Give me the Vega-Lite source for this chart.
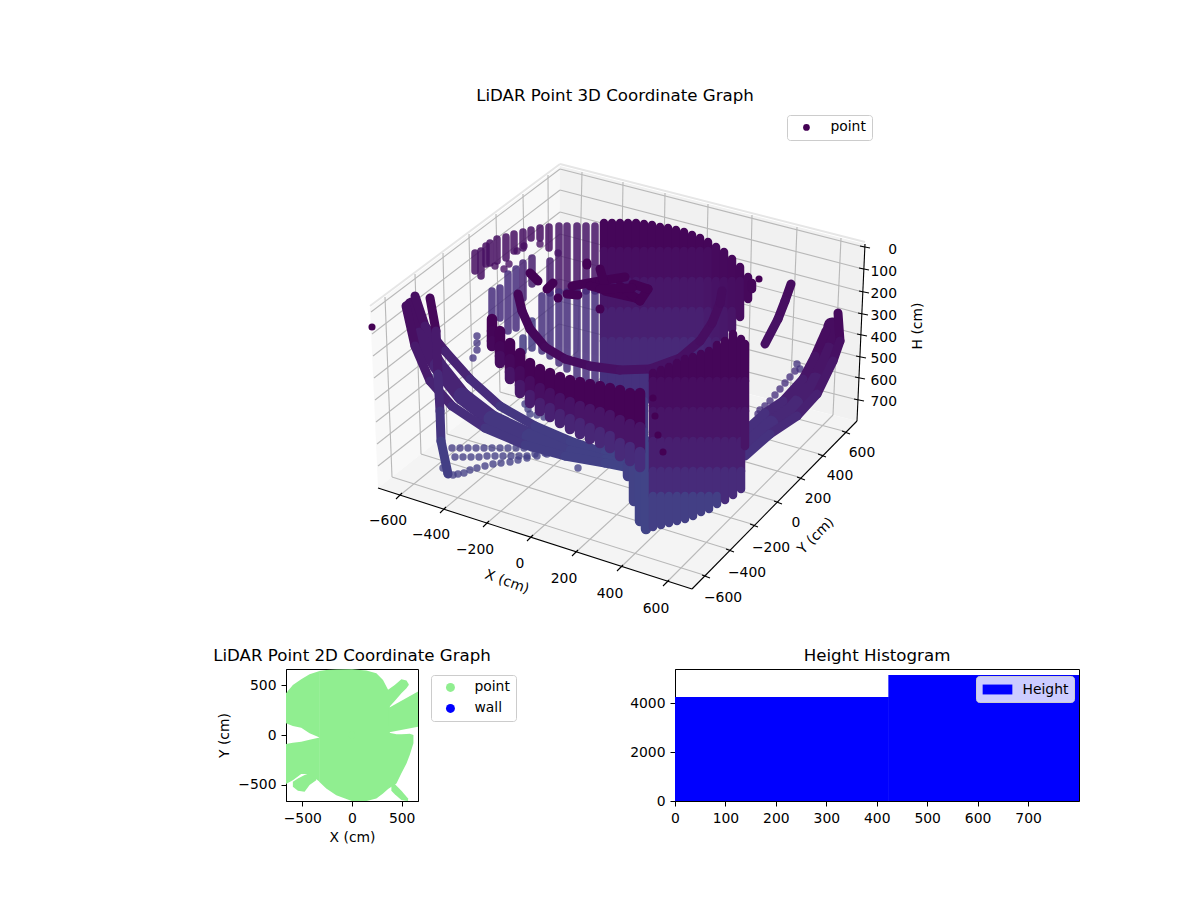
{
"$schema":"https://vega.github.io/schema/vega-lite/v6.json",
"padding":{"left":212,"top":88,"right":110,"bottom":50},
"spacing":26,
"resolve":{"scale":{"color":"independent"},"legend":{"color":"independent"}},
"config":{"font":"DejaVu Sans","axis":{"grid":false,"labelFlush":false,"labelFontSize":13.9,"titleFontSize":13.9,"titleFontWeight":"normal","labelColor":"black","titleColor":"black","domainColor":"black","tickColor":"black","tickSize":5,"labelPadding":5,"titlePadding":6},"title":{"fontSize":16.67,"fontWeight":"normal","color":"black","offset":4},"legend":{"labelFontSize":13.9,"labelColor":"black","fillColor":"rgba(255,255,255,0.8)","strokeColor":"#cccccc","cornerRadius":3,"padding":5.5}},
"datasets":{
"grid":[
{"x":385,"y":296,"x2":392,"y2":476},{"x":415,"y":273,"x2":421,"y2":453},{"x":443,"y":252,"x2":447,"y2":433},{"x":469,"y":233,"x2":473,"y2":412},{"x":496,"y":213,"x2":500,"y2":391},{"x":523,"y":193,"x2":526,"y2":370},{"x":548,"y":174,"x2":549,"y2":352},
{"x":582,"y":171,"x2":578,"y2":350},{"x":623,"y":181,"x2":620,"y2":361},{"x":665,"y":192,"x2":662,"y2":371},{"x":708,"y":203,"x2":704,"y2":382},{"x":752,"y":214,"x2":748,"y2":393},{"x":797,"y":226,"x2":790,"y2":403},{"x":841,"y":237,"x2":833,"y2":414},
{"x":560,"y":168,"x2":864,"y2":246},{"x":560,"y":189,"x2":863,"y2":268},{"x":560,"y":211,"x2":863,"y2":291},{"x":560,"y":233,"x2":862,"y2":313},{"x":560,"y":255,"x2":861,"y2":334},{"x":559,"y":278,"x2":860,"y2":356},{"x":559,"y":300,"x2":859,"y2":377},{"x":559,"y":323,"x2":858,"y2":399},
{"x":560,"y":168,"x2":371,"y2":311},{"x":560,"y":189,"x2":372,"y2":333},{"x":560,"y":211,"x2":373,"y2":355},{"x":560,"y":233,"x2":374,"y2":377},{"x":560,"y":255,"x2":375,"y2":399},{"x":559,"y":278,"x2":376,"y2":421},{"x":559,"y":300,"x2":377,"y2":443},{"x":559,"y":323,"x2":378,"y2":465},
{"x":399,"y":495,"x2":578,"y2":350},{"x":443,"y":509,"x2":620,"y2":361},{"x":486,"y":523,"x2":662,"y2":371},{"x":530,"y":537,"x2":704,"y2":382},{"x":575,"y":552,"x2":748,"y2":393},{"x":620,"y":567,"x2":790,"y2":403},{"x":666,"y":582,"x2":833,"y2":414},
{"x":707,"y":575,"x2":392,"y2":476},{"x":731,"y":549,"x2":421,"y2":453},{"x":755,"y":524,"x2":447,"y2":433},{"x":779,"y":501,"x2":473,"y2":412},{"x":802,"y":477,"x2":500,"y2":391},{"x":823,"y":454,"x2":526,"y2":370},{"x":847,"y":431,"x2":549,"y2":352}],
"axes3d":[
{"x":378,"y":487,"x2":692,"y2":588},{"x":692,"y":588,"x2":857,"y2":420},{"x":865,"y":243,"x2":857,"y2":420},
{"x":396,"y":498,"x2":402,"y2":492},{"x":440,"y":512,"x2":446,"y2":506},{"x":483,"y":526,"x2":489,"y2":520},{"x":527,"y":540,"x2":533,"y2":534},{"x":572,"y":555,"x2":578,"y2":549},{"x":617,"y":570,"x2":623,"y2":564},{"x":663,"y":585,"x2":669,"y2":579},
{"x":702,"y":574,"x2":710,"y2":577},{"x":726,"y":548,"x2":734,"y2":551},{"x":750,"y":523,"x2":758,"y2":526},{"x":774,"y":500,"x2":782,"y2":503},{"x":797,"y":476,"x2":805,"y2":479},{"x":818,"y":453,"x2":826,"y2":456},{"x":842,"y":430,"x2":850,"y2":433},
{"x":860,"y":245,"x2":870,"y2":247},{"x":859,"y":267,"x2":869,"y2":269},{"x":859,"y":290,"x2":869,"y2":292},{"x":858,"y":312,"x2":868,"y2":314},{"x":857,"y":333,"x2":867,"y2":335},{"x":856,"y":355,"x2":866,"y2":357},{"x":855,"y":376,"x2":865,"y2":378},{"x":854,"y":398,"x2":864,"y2":400}],
"ticks3d":[
{"x":388,"y":520,"t":"−600"},{"x":431,"y":534,"t":"−400"},{"x":475,"y":549,"t":"−200"},{"x":520,"y":563,"t":"0"},{"x":564,"y":578,"t":"200"},{"x":610,"y":593,"t":"400"},{"x":656,"y":608,"t":"600"},
{"x":723,"y":597,"t":"−600"},{"x":747,"y":572,"t":"−400"},{"x":771,"y":547,"t":"−200"},{"x":796,"y":522,"t":"0"},{"x":818,"y":498,"t":"200"},{"x":840,"y":475,"t":"400"},{"x":862,"y":452,"t":"600"}],
"hticks":[{"x":897,"y":249,"t":"0"},{"x":897,"y":271,"t":"100"},{"x":897,"y":293,"t":"200"},{"x":897,"y":315,"t":"300"},{"x":897,"y":337,"t":"400"},{"x":897,"y":358,"t":"500"},{"x":897,"y":380,"t":"600"},{"x":897,"y":401,"t":"700"}],
"sparseDots":[
{"x":452,"y":447,"h":560},{"x":460,"y":447,"h":560},{"x":468,"y":447,"h":570},{"x":476,"y":447,"h":570},{"x":484,"y":447,"h":580},{"x":492,"y":447,"h":580},{"x":500,"y":447,"h":590},{"x":508,"y":447,"h":590},{"x":516,"y":447,"h":590},{"x":524,"y":447,"h":600},{"x":532,"y":447,"h":600},{"x":540,"y":447,"h":600},{"x":548,"y":447,"h":600},{"x":556,"y":447,"h":600},
{"x":455,"y":456,"h":570},{"x":463,"y":456,"h":570},{"x":471,"y":456,"h":580},{"x":479,"y":456,"h":580},{"x":487,"y":455,"h":590},{"x":495,"y":455,"h":590},{"x":503,"y":455,"h":590},{"x":511,"y":455,"h":600},{"x":519,"y":455,"h":600},{"x":527,"y":455,"h":600},{"x":535,"y":453,"h":600},{"x":545,"y":452,"h":600},{"x":555,"y":450,"h":600},{"x":565,"y":448,"h":600},
{"x":443,"y":467,"h":600},{"x":447,"y":472,"h":600},{"x":453,"y":474,"h":600},{"x":458,"y":473,"h":600},{"x":464,"y":472,"h":600},{"x":470,"y":469,"h":600},{"x":477,"y":467,"h":600},{"x":485,"y":465,"h":610},{"x":493,"y":463,"h":610},{"x":501,"y":462,"h":610},{"x":510,"y":461,"h":610},{"x":518,"y":459,"h":610},{"x":527,"y":457,"h":610},{"x":537,"y":455,"h":610},{"x":547,"y":453,"h":610},
{"x":525,"y":403,"h":600},{"x":528,"y":408,"h":600},{"x":530,"y":413,"h":600},{"x":537,"y":414,"h":600},{"x":544,"y":416,"h":600},{"x":430,"y":376,"h":900},{"x":578,"y":467,"h":620},
{"x":797,"y":363,"h":500},{"x":800,"y":368,"h":500},{"x":795,"y":370,"h":450},{"x":790,"y":376,"h":450},{"x":785,"y":382,"h":450},{"x":780,"y":388,"h":450},{"x":775,"y":394,"h":450},{"x":770,"y":400,"h":450},{"x":765,"y":405,"h":450},{"x":760,"y":409,"h":450},{"x":758,"y":413,"h":450},
{"x":477,"y":335,"h":500},{"x":477,"y":342,"h":500},{"x":477,"y":349,"h":500},{"x":473,"y":357,"h":500},
{"x":540,"y":243,"h":100},{"x":558,"y":252,"h":100},{"x":495,"y":265,"h":100},{"x":504,"y":268,"h":100},{"x":509,"y":263,"h":100},{"x":517,"y":250,"h":100},{"x":524,"y":245,"h":100}],
"sparseCols":[
{"x":475,"y":252,"y2":270,"h":120},{"x":481,"y":250,"y2":275,"h":120},{"x":486,"y":245,"y2":263,"h":120},{"x":490,"y":242,"y2":262,"h":120},{"x":497,"y":238,"y2":260,"h":120},{"x":506,"y":236,"y2":257,"h":120},{"x":514,"y":233,"y2":250,"h":120},{"x":523,"y":231,"y2":247,"h":120},{"x":531,"y":229,"y2":237,"h":120},{"x":540,"y":227,"y2":237,"h":120},{"x":549,"y":226,"y2":247,"h":120},
{"x":492,"y":290,"y2":313,"h":420},{"x":500,"y":287,"y2":317,"h":420},{"x":508,"y":273,"y2":330,"h":420},{"x":516,"y":268,"y2":327,"h":420},{"x":523,"y":262,"y2":297,"h":300},{"x":523,"y":337,"y2":350,"h":560},{"x":532,"y":257,"y2":283,"h":260},{"x":532,"y":320,"y2":347,"h":540},{"x":542,"y":295,"y2":350,"h":450},{"x":550,"y":260,"y2":292,"h":250},{"x":550,"y":293,"y2":355,"h":450},
{"x":559,"y":225,"y2":290,"h":170},{"x":559,"y":291,"y2":362,"h":430},{"x":567,"y":225,"y2":290,"h":170},{"x":567,"y":291,"y2":368,"h":430},{"x":577,"y":225,"y2":290,"h":170},{"x":577,"y":291,"y2":375,"h":430},{"x":586,"y":225,"y2":290,"h":170},{"x":586,"y":291,"y2":378,"h":430},{"x":595,"y":225,"y2":290,"h":170},{"x":595,"y":291,"y2":380,"h":430}],
"rearBowl":[
{"x":604,"y":222,"y2":250,"h":40},{"x":604,"y":250,"y2":280,"h":110},{"x":604,"y":280,"y2":310,"h":190},{"x":604,"y":310,"y2":340,"h":280},{"x":604,"y":340,"y2":370,"h":370},{"x":604,"y":370,"y2":400,"h":460},{"x":604,"y":400,"y2":430,"h":560},{"x":604,"y":430,"y2":450,"h":640},
{"x":612,"y":222,"y2":250,"h":40},{"x":612,"y":250,"y2":280,"h":110},{"x":612,"y":280,"y2":310,"h":190},{"x":612,"y":310,"y2":340,"h":280},{"x":612,"y":340,"y2":370,"h":370},{"x":612,"y":370,"y2":400,"h":460},{"x":612,"y":400,"y2":430,"h":560},{"x":612,"y":430,"y2":458,"h":640},
{"x":620,"y":222,"y2":250,"h":40},{"x":620,"y":250,"y2":280,"h":110},{"x":620,"y":280,"y2":310,"h":190},{"x":620,"y":310,"y2":340,"h":280},{"x":620,"y":340,"y2":370,"h":370},{"x":620,"y":370,"y2":400,"h":460},{"x":620,"y":400,"y2":430,"h":560},{"x":620,"y":430,"y2":462,"h":640},
{"x":628,"y":222,"y2":250,"h":40},{"x":628,"y":250,"y2":280,"h":110},{"x":628,"y":280,"y2":310,"h":190},{"x":628,"y":310,"y2":340,"h":280},{"x":628,"y":340,"y2":370,"h":370},{"x":628,"y":370,"y2":400,"h":460},{"x":628,"y":400,"y2":430,"h":560},{"x":628,"y":430,"y2":465,"h":640},
{"x":636,"y":222,"y2":250,"h":40},{"x":636,"y":250,"y2":280,"h":110},{"x":636,"y":280,"y2":310,"h":190},{"x":636,"y":310,"y2":340,"h":280},{"x":636,"y":340,"y2":370,"h":370},{"x":636,"y":370,"y2":400,"h":460},{"x":636,"y":400,"y2":430,"h":560},{"x":636,"y":430,"y2":465,"h":640},
{"x":644,"y":223,"y2":250,"h":40},{"x":644,"y":250,"y2":280,"h":110},{"x":644,"y":280,"y2":310,"h":190},{"x":644,"y":310,"y2":340,"h":280},{"x":644,"y":340,"y2":370,"h":370},{"x":644,"y":370,"y2":400,"h":460},{"x":644,"y":400,"y2":430,"h":560},{"x":644,"y":430,"y2":440,"h":640},
{"x":652,"y":224,"y2":250,"h":40},{"x":652,"y":250,"y2":280,"h":110},{"x":652,"y":280,"y2":310,"h":190},{"x":652,"y":310,"y2":340,"h":280},{"x":652,"y":340,"y2":370,"h":370},{"x":652,"y":370,"y2":400,"h":460},
{"x":660,"y":226,"y2":250,"h":40},{"x":660,"y":250,"y2":280,"h":110},{"x":660,"y":280,"y2":310,"h":190},{"x":660,"y":310,"y2":340,"h":280},{"x":660,"y":340,"y2":370,"h":370},{"x":660,"y":370,"y2":390,"h":460},
{"x":668,"y":227,"y2":250,"h":40},{"x":668,"y":250,"y2":280,"h":110},{"x":668,"y":280,"y2":310,"h":190},{"x":668,"y":310,"y2":340,"h":280},{"x":668,"y":340,"y2":370,"h":370},{"x":668,"y":370,"y2":390,"h":460},
{"x":676,"y":229,"y2":250,"h":40},{"x":676,"y":250,"y2":280,"h":110},{"x":676,"y":280,"y2":310,"h":190},{"x":676,"y":310,"y2":340,"h":280},{"x":676,"y":340,"y2":370,"h":370},{"x":676,"y":370,"y2":388,"h":460},
{"x":684,"y":231,"y2":250,"h":40},{"x":684,"y":250,"y2":280,"h":110},{"x":684,"y":280,"y2":310,"h":190},{"x":684,"y":310,"y2":340,"h":280},{"x":684,"y":340,"y2":370,"h":370},{"x":684,"y":370,"y2":385,"h":460},
{"x":692,"y":234,"y2":250,"h":40},{"x":692,"y":250,"y2":280,"h":110},{"x":692,"y":280,"y2":310,"h":190},{"x":692,"y":310,"y2":340,"h":280},{"x":692,"y":340,"y2":378,"h":370},
{"x":700,"y":237,"y2":250,"h":40},{"x":700,"y":250,"y2":280,"h":110},{"x":700,"y":280,"y2":310,"h":190},{"x":700,"y":310,"y2":340,"h":280},{"x":700,"y":340,"y2":370,"h":350},
{"x":708,"y":241,"y2":250,"h":40},{"x":708,"y":250,"y2":280,"h":100},{"x":708,"y":280,"y2":310,"h":170},{"x":708,"y":310,"y2":340,"h":240},{"x":708,"y":340,"y2":362,"h":300},
{"x":716,"y":246,"y2":280,"h":80},{"x":716,"y":280,"y2":310,"h":150},{"x":716,"y":310,"y2":340,"h":220},{"x":716,"y":340,"y2":350,"h":270},
{"x":724,"y":251,"y2":280,"h":70},{"x":724,"y":280,"y2":310,"h":130},{"x":724,"y":310,"y2":338,"h":200},
{"x":732,"y":258,"y2":280,"h":60},{"x":732,"y":280,"y2":310,"h":110},{"x":732,"y":310,"y2":328,"h":170},
{"x":740,"y":266,"y2":280,"h":50},{"x":740,"y":280,"y2":316,"h":100},
{"x":748,"y":276,"y2":298,"h":60},{"x":752,"y":282,"y2":288,"h":50}],
"wideArcs":[
{"x":412,"y":305,"x2":420,"y2":335,"h":120},{"x":420,"y":335,"x2":438,"y2":365,"h":220},{"x":438,"y":365,"x2":462,"y2":395,"h":320},{"x":462,"y":395,"x2":492,"y2":418,"h":420},{"x":492,"y":418,"x2":530,"y2":436,"h":520},{"x":530,"y":436,"x2":570,"y2":449,"h":580},
{"x":832,"y":325,"x2":828,"y2":350,"h":100},{"x":828,"y":350,"x2":815,"y2":380,"h":170},{"x":815,"y":380,"x2":795,"y2":403,"h":260},{"x":795,"y":403,"x2":770,"y2":423,"h":360},{"x":770,"y":423,"x2":745,"y2":443,"h":450}],
"arcs":[
{"x":518,"y":293,"x2":522,"y2":310,"h":30},{"x":522,"y":310,"x2":530,"y2":328,"h":40},{"x":530,"y":328,"x2":545,"y2":346,"h":50},{"x":545,"y":346,"x2":565,"y2":358,"h":70},{"x":565,"y":358,"x2":590,"y2":365,"h":90},{"x":590,"y":365,"x2":620,"y2":369,"h":130},{"x":620,"y":369,"x2":650,"y2":368,"h":150},{"x":650,"y":368,"x2":680,"y2":357,"h":150},{"x":680,"y":357,"x2":700,"y2":340,"h":130},{"x":700,"y":340,"x2":712,"y2":322,"h":110},{"x":712,"y":322,"x2":720,"y2":302,"h":100},{"x":720,"y":302,"x2":722,"y2":290,"h":90},
{"x":572,"y":285,"x2":600,"y2":280,"h":5},{"x":600,"y":280,"x2":625,"y2":276,"h":5},{"x":600,"y":268,"x2":605,"y2":285,"h":5},{"x":590,"y":285,"x2":610,"y2":290,"h":5},{"x":605,"y":290,"x2":640,"y2":298,"h":5},{"x":620,"y":285,"x2":640,"y2":300,"h":5},{"x":640,"y":300,"x2":648,"y2":288,"h":5},{"x":633,"y":283,"x2":648,"y2":288,"h":5},{"x":600,"y":288,"x2":632,"y2":287,"h":5},{"x":587,"y":262,"x2":587,"y2":264,"h":5},{"x":530,"y":272,"x2":538,"y2":280,"h":5},{"x":547,"y":288,"x2":553,"y2":282,"h":5},{"x":558,"y":297,"x2":558,"y2":297,"h":5},{"x":567,"y":293,"x2":578,"y2":294,"h":5},{"x":600,"y":308,"x2":600,"y2":308,"h":5},
{"x":415,"y":295,"x2":425,"y2":325,"h":120},{"x":425,"y":325,"x2":445,"y2":350,"h":220},{"x":445,"y":350,"x2":470,"y2":378,"h":320},{"x":470,"y":378,"x2":500,"y2":405,"h":420},{"x":500,"y":405,"x2":535,"y2":425,"h":520},{"x":535,"y":425,"x2":570,"y2":440,"h":580},{"x":570,"y":440,"x2":605,"y2":452,"h":620},{"x":605,"y":452,"x2":635,"y2":462,"h":650},
{"x":570,"y":449,"x2":605,"y2":458,"h":620},{"x":605,"y":458,"x2":635,"y2":465,"h":650},
{"x":406,"y":305,"x2":415,"y2":345,"h":120},{"x":415,"y":345,"x2":430,"y2":380,"h":220},{"x":430,"y":380,"x2":452,"y2":405,"h":320},{"x":452,"y":405,"x2":485,"y2":427,"h":420},{"x":485,"y":427,"x2":525,"y2":444,"h":520},{"x":525,"y":444,"x2":565,"y2":455,"h":580},{"x":565,"y":455,"x2":605,"y2":462,"h":620},{"x":605,"y":462,"x2":635,"y2":468,"h":650},
{"x":430,"y":297,"x2":436,"y2":330,"h":60},{"x":436,"y":330,"x2":438,"y2":373,"h":220},{"x":438,"y":373,"x2":440,"y2":410,"h":380},{"x":440,"y":410,"x2":441,"y2":440,"h":500},{"x":441,"y":440,"x2":448,"y2":473,"h":600},
{"x":838,"y":312,"x2":840,"y2":340,"h":80},{"x":840,"y":340,"x2":833,"y2":360,"h":130},{"x":833,"y":360,"x2":817,"y2":393,"h":200},{"x":817,"y":393,"x2":797,"y2":415,"h":290},{"x":797,"y":415,"x2":770,"y2":433,"h":390},{"x":770,"y":433,"x2":745,"y2":455,"h":470},
{"x":826,"y":330,"x2":815,"y2":355,"h":100},{"x":815,"y":355,"x2":803,"y2":378,"h":170},{"x":803,"y":378,"x2":783,"y2":400,"h":260},{"x":783,"y":400,"x2":765,"y2":412,"h":360},{"x":765,"y":412,"x2":745,"y2":430,"h":450},
{"x":791,"y":283,"x2":785,"y2":300,"h":90},{"x":785,"y":300,"x2":778,"y2":318,"h":110},{"x":778,"y":318,"x2":765,"y2":343,"h":130}],
"front":[
{"x":628,"y":465,"y2":475,"h":620},{"x":634,"y":462,"y2":500,"h":640},{"x":640,"y":455,"y2":520,"h":650},{"x":646,"y":440,"y2":528,"h":660},
{"x":492,"y":318,"y2":330,"h":20},{"x":492,"y":330,"y2":340,"h":30},{"x":492,"y":340,"y2":345,"h":60},
{"x":500,"y":330,"y2":345,"h":20},{"x":500,"y":345,"y2":355,"h":40},{"x":500,"y":355,"y2":362,"h":100},
{"x":510,"y":342,"y2":358,"h":20},{"x":510,"y":358,"y2":371,"h":60},{"x":510,"y":371,"y2":378,"h":170},
{"x":520,"y":352,"y2":370,"h":20},{"x":520,"y":370,"y2":384,"h":80},{"x":520,"y":384,"y2":392,"h":200},
{"x":530,"y":362,"y2":380,"h":20},{"x":530,"y":380,"y2":394,"h":100},{"x":530,"y":394,"y2":402,"h":240},
{"x":540,"y":368,"y2":387,"h":20},{"x":540,"y":387,"y2":402,"h":120},{"x":540,"y":402,"y2":410,"h":270},
{"x":550,"y":372,"y2":392,"h":20},{"x":550,"y":392,"y2":407,"h":130},{"x":550,"y":407,"y2":416,"h":290},
{"x":560,"y":376,"y2":397,"h":20},{"x":560,"y":397,"y2":413,"h":150},{"x":560,"y":413,"y2":422,"h":310},
{"x":570,"y":379,"y2":401,"h":20},{"x":570,"y":401,"y2":418,"h":160},{"x":570,"y":418,"y2":428,"h":330},
{"x":580,"y":381,"y2":405,"h":20},{"x":580,"y":405,"y2":422,"h":170},{"x":580,"y":422,"y2":433,"h":340},
{"x":590,"y":383,"y2":408,"h":20},{"x":590,"y":408,"y2":427,"h":170},{"x":590,"y":427,"y2":438,"h":350},
{"x":600,"y":385,"y2":411,"h":20},{"x":600,"y":411,"y2":431,"h":170},{"x":600,"y":431,"y2":442,"h":360},
{"x":610,"y":387,"y2":414,"h":20},{"x":610,"y":414,"y2":435,"h":170},{"x":610,"y":435,"y2":447,"h":370},
{"x":620,"y":389,"y2":419,"h":20},{"x":620,"y":419,"y2":442,"h":170},{"x":620,"y":442,"y2":455,"h":380},
{"x":630,"y":392,"y2":423,"h":20},{"x":630,"y":423,"y2":446,"h":170},{"x":630,"y":446,"y2":460,"h":400},
{"x":640,"y":392,"y2":426,"h":20},{"x":640,"y":426,"y2":451,"h":170},{"x":640,"y":451,"y2":466,"h":420}],
"block":[
{"x":653,"y":372,"y2":380,"h":40},{"x":653,"y":380,"y2":410,"h":100},{"x":653,"y":410,"y2":440,"h":170},{"x":653,"y":440,"y2":470,"h":270},{"x":653,"y":470,"y2":495,"h":400},{"x":653,"y":495,"y2":526,"h":600},
{"x":661,"y":369,"y2":380,"h":40},{"x":661,"y":380,"y2":410,"h":100},{"x":661,"y":410,"y2":440,"h":170},{"x":661,"y":440,"y2":470,"h":270},{"x":661,"y":470,"y2":495,"h":400},{"x":661,"y":495,"y2":524,"h":600},
{"x":669,"y":366,"y2":380,"h":40},{"x":669,"y":380,"y2":410,"h":100},{"x":669,"y":410,"y2":440,"h":170},{"x":669,"y":440,"y2":470,"h":270},{"x":669,"y":470,"y2":495,"h":400},{"x":669,"y":495,"y2":522,"h":600},
{"x":677,"y":362,"y2":380,"h":40},{"x":677,"y":380,"y2":410,"h":100},{"x":677,"y":410,"y2":440,"h":170},{"x":677,"y":440,"y2":470,"h":270},{"x":677,"y":470,"y2":495,"h":400},{"x":677,"y":495,"y2":520,"h":600},
{"x":685,"y":358,"y2":380,"h":40},{"x":685,"y":380,"y2":410,"h":100},{"x":685,"y":410,"y2":440,"h":170},{"x":685,"y":440,"y2":470,"h":270},{"x":685,"y":470,"y2":495,"h":400},{"x":685,"y":495,"y2":518,"h":600},
{"x":693,"y":356,"y2":380,"h":40},{"x":693,"y":380,"y2":410,"h":100},{"x":693,"y":410,"y2":440,"h":170},{"x":693,"y":440,"y2":470,"h":270},{"x":693,"y":470,"y2":495,"h":400},{"x":693,"y":495,"y2":515,"h":600},
{"x":701,"y":353,"y2":380,"h":40},{"x":701,"y":380,"y2":410,"h":100},{"x":701,"y":410,"y2":440,"h":170},{"x":701,"y":440,"y2":470,"h":270},{"x":701,"y":470,"y2":495,"h":400},{"x":701,"y":495,"y2":511,"h":600},
{"x":709,"y":350,"y2":380,"h":40},{"x":709,"y":380,"y2":410,"h":100},{"x":709,"y":410,"y2":440,"h":170},{"x":709,"y":440,"y2":470,"h":270},{"x":709,"y":470,"y2":495,"h":400},{"x":709,"y":495,"y2":508,"h":600},
{"x":717,"y":344,"y2":380,"h":40},{"x":717,"y":380,"y2":410,"h":100},{"x":717,"y":410,"y2":440,"h":170},{"x":717,"y":440,"y2":470,"h":270},{"x":717,"y":470,"y2":495,"h":400},{"x":717,"y":495,"y2":503,"h":600},
{"x":725,"y":340,"y2":380,"h":40},{"x":725,"y":380,"y2":410,"h":100},{"x":725,"y":410,"y2":440,"h":170},{"x":725,"y":440,"y2":470,"h":270},{"x":725,"y":470,"y2":499,"h":400},
{"x":733,"y":333,"y2":380,"h":40},{"x":733,"y":380,"y2":410,"h":100},{"x":733,"y":410,"y2":440,"h":170},{"x":733,"y":440,"y2":470,"h":270},{"x":733,"y":470,"y2":494,"h":400},
{"x":741,"y":338,"y2":380,"h":40},{"x":741,"y":380,"y2":410,"h":100},{"x":741,"y":410,"y2":440,"h":170},{"x":741,"y":440,"y2":470,"h":270},{"x":741,"y":470,"y2":488,"h":400},
{"x":745,"y":343,"y2":380,"h":40},{"x":745,"y":380,"y2":410,"h":100},{"x":745,"y":410,"y2":445,"h":170}],
"lone":[{"series":"point","x":372,"y":326},{"series":"point","x":759,"y":278},{"series":"point","x":653,"y":397},{"series":"point","x":655,"y":415},{"series":"point","x":658,"y":434},{"series":"point","x":663,"y":451}],
"blob":[
{"part":"ul","x":-664,"y":420,"y2":118},{"part":"ul","x":-595,"y":504,"y2":91},{"part":"ul","x":-511,"y":561,"y2":74},{"part":"ul","x":-427,"y":612,"y2":17},{"part":"ul","x":-326,"y":645,"y2":-24},
{"part":"c","x":-330,"y":645,"y2":-470},{"part":"c","x":-259,"y":655,"y2":-538},{"part":"c","x":-158,"y":659,"y2":-605},{"part":"c","x":0,"y":662,"y2":-665},{"part":"c","x":144,"y":648,"y2":-665},{"part":"c","x":245,"y":622,"y2":-638},{"part":"c","x":312,"y":554,"y2":-588},{"part":"c","x":363,"y":454,"y2":-544},{"part":"c","x":380,"y":447,"y2":-500},
{"part":"ru","x":363,"y":269,"y2":24},{"part":"ru","x":665,"y":437,"y2":84},
{"part":"rl","x":363,"y":24,"y2":-544},{"part":"rl","x":447,"y":7,"y2":-487},{"part":"rl","x":497,"y":7,"y2":-386},{"part":"rl","x":548,"y":10,"y2":-286},{"part":"rl","x":581,"y":13,"y2":-202},{"part":"rl","x":618,"y":0,"y2":-84},
{"part":"su","x":363,"y":454,"y2":269},{"part":"su","x":430,"y":504,"y2":343},{"part":"su","x":497,"y":561,"y2":420},{"part":"su","x":548,"y":548,"y2":470},{"part":"su","x":571,"y":511,"y2":504},
{"part":"sl","x":396,"y":-494,"y2":-561},{"part":"sl","x":430,"y":-494,"y2":-595},{"part":"sl","x":497,"y":-561,"y2":-655},{"part":"sl","x":564,"y":-638,"y2":-665},
{"part":"ll","x":-664,"y":-91,"y2":-494},{"part":"ll","x":-595,"y":-77,"y2":-454},{"part":"ll","x":-511,"y":-67,"y2":-393},{"part":"ll","x":-427,"y":-47,"y2":-393},{"part":"ll","x":-326,"y":-24,"y2":-470},
{"part":"ls","x":-595,"y":-470,"y2":-521},{"part":"ls","x":-544,"y":-437,"y2":-561},{"part":"ls","x":-477,"y":-403,"y2":-571},{"part":"ls","x":-427,"y":-386,"y2":-504},{"part":"ls","x":-360,"y":-386,"y2":-454}]
},
"vconcat":[
{
"title":{"text":"LiDAR Point 3D Coordinate Graph"},
"width":658,"height":512,
"view":{"stroke":null},
"encoding":{
"x":{"field":"x","type":"quantitative","scale":{"domain":[286,944],"nice":false,"zero":false},"axis":null},
"y":{"field":"y","type":"quantitative","scale":{"domain":[620,108],"nice":false,"zero":false},"axis":null}
},
"layer":[
{"data":{"values":[{"x":370,"y":307,"y2":307},{"x":378,"y":301,"y2":487},{"x":558,"y":167,"y2":345},{"x":560,"y":165,"y2":165}]},"mark":{"type":"area","fill":"#f8f8f8","opacity":1},"encoding":{"y2":{"field":"y2"}}},
{"data":{"values":[{"x":558,"y":345,"y2":345},{"x":560,"y":165,"y2":346},{"x":857,"y":241,"y2":420},{"x":865,"y":243,"y2":243}]},"mark":{"type":"area","fill":"#f1f1f1","opacity":1},"encoding":{"y2":{"field":"y2"}}},
{"data":{"values":[{"x":378,"y":487,"y2":487},{"x":558,"y":345,"y2":545},{"x":692,"y":379,"y2":588},{"x":857,"y":420,"y2":420}]},"mark":{"type":"area","fill":"#f4f4f4","opacity":1},"encoding":{"y2":{"field":"y2"}}},
{"data":{"values":[{"x":370,"y":305,"x2":560,"y2":163},{"x":560,"y":163,"x2":865,"y2":241}]},"mark":{"type":"rule","stroke":"#e6e6e6","strokeWidth":2},"encoding":{"x2":{"field":"x2"},"y2":{"field":"y2"}}},
{"data":{"name":"grid"},"mark":{"type":"rule","stroke":"#b8b8b8","strokeWidth":1.1},"encoding":{"x2":{"field":"x2"},"y2":{"field":"y2"}}},
{"data":{"name":"axes3d"},"mark":{"type":"rule","stroke":"black","strokeWidth":1.1},"encoding":{"x2":{"field":"x2"},"y2":{"field":"y2"}}},
{"data":{"name":"ticks3d"},"mark":{"type":"text","fontSize":13.9,"color":"black"},"encoding":{"text":{"field":"t"}}},
{"data":{"name":"hticks"},"mark":{"type":"text","fontSize":13.9,"color":"black","align":"right"},"encoding":{"text":{"field":"t"}}},
{"data":{"values":[{"x":507,"y":581,"t":"X (cm)"}]},"mark":{"type":"text","fontSize":13.9,"color":"black","angle":20},"encoding":{"text":{"field":"t"}}},
{"data":{"values":[{"x":816,"y":535,"t":"Y (cm)"}]},"mark":{"type":"text","fontSize":13.9,"color":"black","angle":-45},"encoding":{"text":{"field":"t"}}},
{"data":{"values":[{"x":918,"y":325,"t":"H (cm)"}]},"mark":{"type":"text","fontSize":13.9,"color":"black","angle":-90},"encoding":{"text":{"field":"t"}}},
{"data":{"name":"sparseDots"},"mark":{"type":"point","filled":true,"size":55,"opacity":0.78},"encoding":{"fill":{"field":"h","type":"quantitative","scale":{"scheme":"viridis","domain":[0,3300]},"legend":null}}},
{"data":{"name":"sparseCols"},"mark":{"type":"rule","strokeWidth":7.5,"strokeCap":"round","opacity":0.85},"encoding":{"y2":{"field":"y2"},"stroke":{"field":"h","type":"quantitative","scale":{"scheme":"viridis","domain":[0,3300]},"legend":null}}},
{"data":{"name":"rearBowl"},"mark":{"type":"rule","strokeWidth":8.5,"strokeCap":"round"},"encoding":{"y2":{"field":"y2"},"stroke":{"field":"h","type":"quantitative","scale":{"scheme":"viridis","domain":[0,3300]},"legend":null}}},
{"data":{"name":"wideArcs"},"mark":{"type":"rule","strokeWidth":17,"strokeCap":"round"},"encoding":{"x2":{"field":"x2"},"y2":{"field":"y2"},"stroke":{"field":"h","type":"quantitative","scale":{"scheme":"viridis","domain":[0,3300]},"legend":null}}},
{"data":{"name":"arcs"},"mark":{"type":"rule","strokeWidth":9,"strokeCap":"round"},"encoding":{"x2":{"field":"x2"},"y2":{"field":"y2"},"stroke":{"field":"h","type":"quantitative","scale":{"scheme":"viridis","domain":[0,3300]},"legend":null}}},
{"data":{"name":"front"},"mark":{"type":"rule","strokeWidth":10.5,"strokeCap":"round"},"encoding":{"y2":{"field":"y2"},"stroke":{"field":"h","type":"quantitative","scale":{"scheme":"viridis","domain":[0,3300]},"legend":null}}},
{"data":{"name":"block"},"mark":{"type":"rule","strokeWidth":8.5,"strokeCap":"round"},"encoding":{"y2":{"field":"y2"},"stroke":{"field":"h","type":"quantitative","scale":{"scheme":"viridis","domain":[0,3300]},"legend":null}}},
{"data":{"name":"lone"},"mark":{"type":"point","filled":true,"size":50,"opacity":1},"encoding":{"color":{"field":"series","type":"nominal","scale":{"domain":["point"],"range":["#440154"]},"legend":{"title":null,"orient":"none","legendX":501,"legendY":6,"symbolSize":45,"symbolOffset":7,"labelOffset":17}}}}
]
},
{
"spacing":112,
"resolve":{"scale":{"color":"independent"},"legend":{"color":"independent"}},
"hconcat":[
{
"title":{"text":"LiDAR Point 2D Coordinate Graph"},
"width":132,"height":132,
"view":{"stroke":"black","strokeWidth":1},
"encoding":{
"x":{"field":"x","type":"quantitative","title":"X (cm)","scale":{"domain":[-664,664],"nice":false},"axis":{"values":[-500,0,500]}},
"y":{"field":"y","type":"quantitative","title":"Y (cm)","scale":{"domain":[-664,664],"nice":false},"axis":{"values":[-500,0,500]}}
},
"layer":[
{"data":{"name":"blob"},"mark":{"type":"area","fill":"#90ee90","clip":true,"opacity":1},"encoding":{"y2":{"field":"y2"},"detail":{"field":"part"}}},
{"data":{"values":[{"series":"point","x":0,"y":0}]},"mark":{"type":"point","filled":true,"size":40,"opacity":1},"encoding":{"color":{"field":"series","type":"nominal","scale":{"domain":["point","wall"],"range":["#90ee90","#0000ff"]},"legend":{"title":null,"orient":"none","legendX":145,"legendY":6,"symbolSize":80,"symbolType":"circle","symbolOffset":7,"labelOffset":17,"rowPadding":6}}}}
]
},
{
"title":{"text":"Height Histogram"},
"width":404,"height":132,
"view":{"stroke":"black","strokeWidth":1},
"data":{"values":[{"b0":0,"b1":424,"count":4262,"base":0,"series":"Height"},{"b0":423,"b1":801,"count":5164,"base":0,"series":"Height"}]},
"mark":{"type":"bar"},
"encoding":{
"x":{"field":"b0","type":"quantitative","title":null,"scale":{"domain":[0,801],"nice":false},"axis":{"values":[0,100,200,300,400,500,600,700]}},
"x2":{"field":"b1"},
"y":{"field":"count","type":"quantitative","title":null,"scale":{"domain":[0,5410],"nice":false},"axis":{"values":[0,2000,4000],"format":"d"}},
"y2":{"field":"base"},
"color":{"field":"series","type":"nominal","scale":{"domain":["Height"],"range":["#0000ff"]},"legend":{"title":null,"orient":"none","legendX":301,"legendY":7,"symbolType":"M-2.1,-0.7H2.1V0.7H-2.1Z","symbolSize":200,"symbolOffset":8,"labelOffset":17}}
}
}
]
}
]
}
